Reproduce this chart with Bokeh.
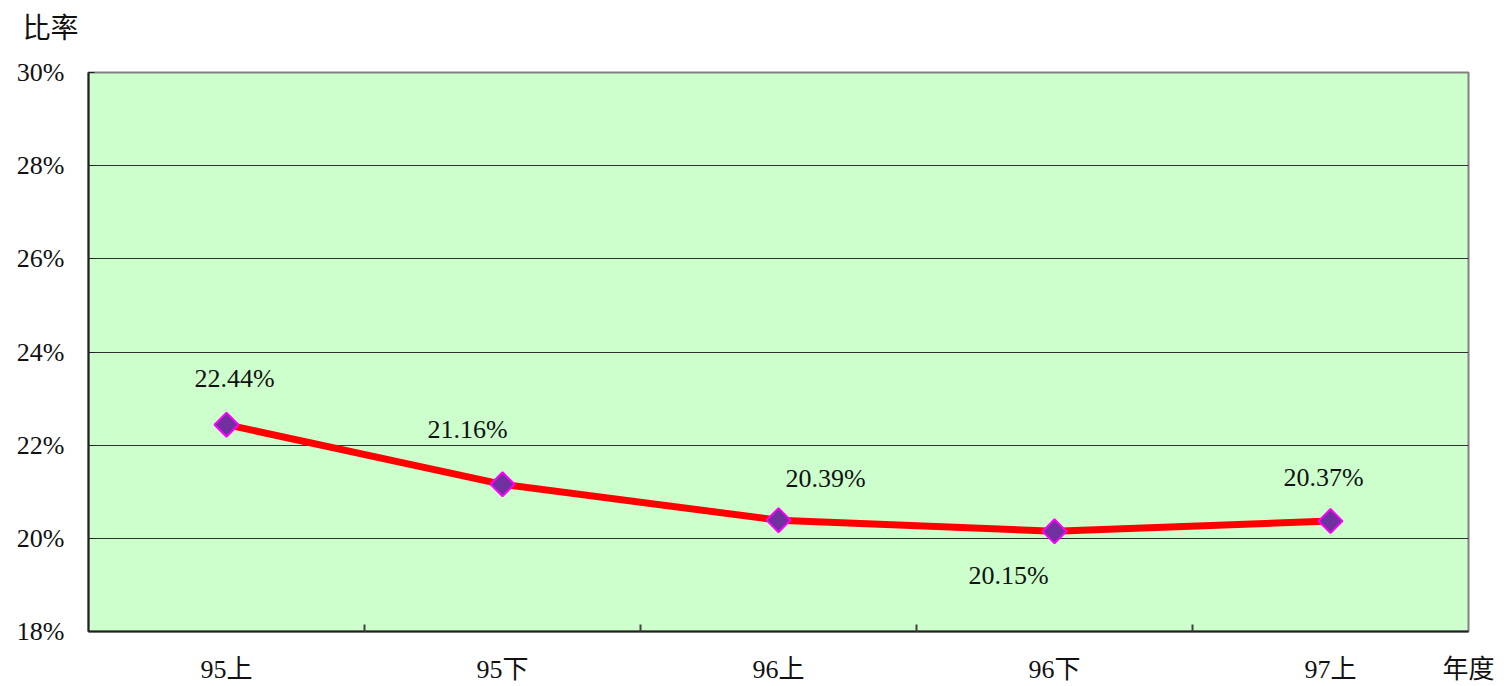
from bokeh.plotting import figure
from bokeh.models import (Range1d, FixedTicker, PrintfTickFormatter, Title,
                          ColumnDataSource)
from bokeh.core.properties import value
from bokeh.embed import file_html
from bokeh.resources import INLINE

categories = ["95上", "95下", "96上", "96下", "97上"]
rates = [22.44, 21.16, 20.39, 20.15, 20.37]
y_ticks = [18, 20, 22, 24, 26, 28, 30]
x_axis_title = "年度"
y_axis_title = "比率"

# label placement (screen pixel offsets relative to each point)
label_dx = [8, -35, 47, -46, -7]
label_dy = [-46, -55, -42, 44, -44]

FONT = "'Liberation Serif', 'Noto Sans CJK TC'"
CJK = "'Noto Sans CJK TC'"

n = len(categories)
xs = [i + 0.5 for i in range(n)]
src = ColumnDataSource(dict(
    x=xs, y=rates,
    label=[f"{v:.2f}%" for v in rates],
    dx=label_dx, dy=label_dy,
))

p = figure(width=1507, height=686, output_backend="svg", toolbar_location=None,
           x_range=Range1d(0, n), y_range=Range1d(18, 30),
           min_border_left=88, min_border_right=39, min_border_top=72,
           min_border_bottom=55)
p.background_fill_color = "#CCFFCC"
p.border_fill_color = "white"
p.outline_line_color = "#808080"
p.outline_line_width = 2

# x axis: category labels at centres, tick marks between categories,
# and the axis title at the right end of the axis
xa = p.xaxis[0]
xa.ticker = FixedTicker(ticks=xs + [n], minor_ticks=list(range(1, n)))
overrides = {x: c for x, c in zip(xs, categories)}
overrides[n] = x_axis_title
xa.major_label_overrides = overrides
xa.major_tick_line_color = None
xa.minor_tick_in = 7
xa.minor_tick_out = 0
xa.minor_tick_line_color = "#404040"
xa.minor_tick_line_width = 2
xa.axis_line_color = "#202020"
xa.axis_line_width = 2
xa.major_label_standoff = 17
xa.major_label_text_font = FONT
xa.major_label_text_font_size = "26px"
xa.major_label_text_color = "#111111"

# y axis
ya = p.yaxis[0]
ya.ticker = FixedTicker(ticks=y_ticks)
ya.formatter = PrintfTickFormatter(format="%d%%")
ya.major_tick_in = 6
ya.major_tick_out = 0
ya.major_tick_line_color = "#202020"
ya.minor_tick_line_color = None
ya.axis_line_color = "#202020"
ya.axis_line_width = 2
ya.major_label_standoff = 24
ya.major_label_text_font = FONT
ya.major_label_text_font_size = "26px"
ya.major_label_text_color = "#111111"

p.xgrid.grid_line_color = None
p.ygrid.ticker = FixedTicker(ticks=y_ticks)
p.ygrid.grid_line_color = "#303030"
p.ygrid.grid_line_width = 1

p.line("x", "y", source=src, line_color="#FF0000", line_width=7)
p.scatter("x", "y", source=src, marker="square", angle=0.785398, size=17,
          fill_color="#7030A0", line_color="#FF00FF", line_width=2)
p.text("x", "y", text="label", source=src, x_offset="dx", y_offset="dy",
       text_align="center", text_baseline="middle",
       text_font=value(FONT), text_font_size="26px", text_color="#111111")

# spacer between the frame and the y-axis title
p.add_layout(Title(text=" ", standoff=18, text_font_size="1px"), "above")
p.add_layout(Title(text=y_axis_title, align="left", offset=-66, standoff=8,
                   vertical_align="top",
                   text_font=CJK, text_font_size="28px", text_font_style="normal",
                   text_color="#111111"), "above")

open("out.html", "w").write(file_html(p, INLINE))
